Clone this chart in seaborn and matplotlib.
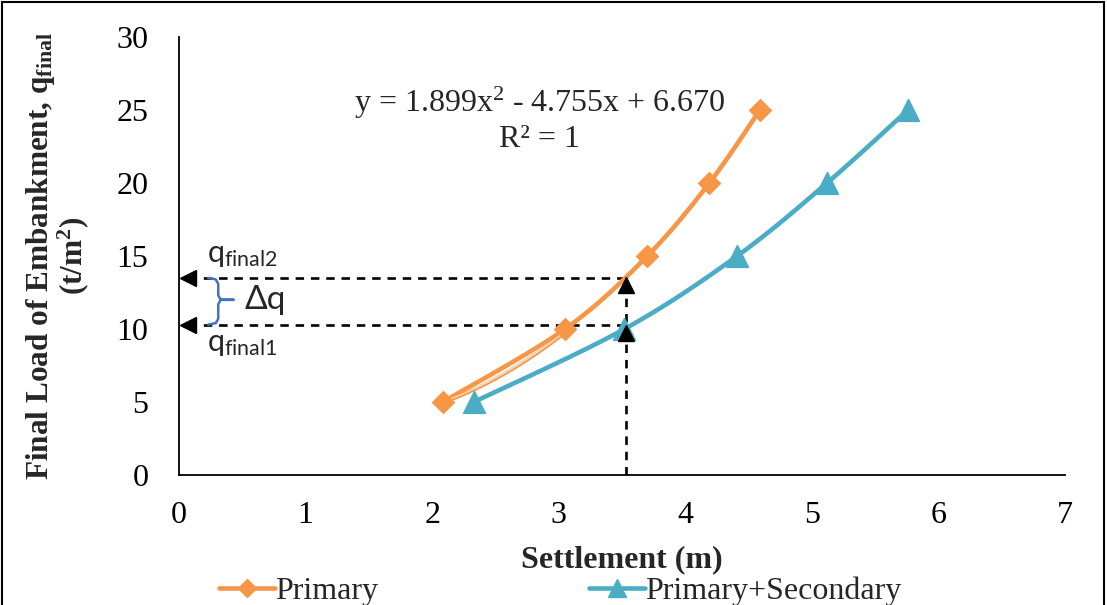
import numpy as np
import pandas as pd
import matplotlib
matplotlib.use("Agg")
import matplotlib.pyplot as plt
from matplotlib.lines import Line2D
from matplotlib.patches import Rectangle
import seaborn as sns

# ---- data ----
load = [5, 10, 15, 20, 25]
primary = [2.085, 3.05, 3.70, 4.19, 4.59]
primary_secondary = [2.33, 3.52, 4.41, 5.12, 5.76]
trend_coef = [1.899, -4.755, 6.670]   # y = a x^2 + b x + c
trend_range = [2.085, 3.05]
q_final1 = 10.3
q_final2 = 13.5
s_mark = 3.53
x_ticks = [0, 1, 2, 3, 4, 5, 6, 7]
y_ticks = [0, 5, 10, 15, 20, 25, 30]

sns.set_theme(style="white")
plt.rcParams['font.family'] = ['Liberation Serif', 'DejaVu Serif']
plt.rcParams['mathtext.fontset'] = 'custom'
plt.rcParams['mathtext.rm'] = 'Liberation Serif'
plt.rcParams['mathtext.bf'] = 'Liberation Serif:bold'
plt.rcParams['mathtext.it'] = 'Liberation Serif:italic'

ORANGE = "#F79646"
BLUE = "#4BACC6"
FS = 23


def smooth(xs, ys, n=30):
    """Excel-like smoothed curve (cubic Bezier, tension 1/6) through points."""
    P = np.column_stack([xs, ys]).astype(float)
    out = []
    for i in range(len(P) - 1):
        p0 = P[i - 1] if i > 0 else P[i]
        p1, p2 = P[i], P[i + 1]
        p3 = P[i + 2] if i + 2 < len(P) else P[i + 1]
        c1 = p1 + (p2 - p0) / 6
        c2 = p2 - (p3 - p1) / 6
        t = np.linspace(0, 1, n)[:, None]
        seg = ((1 - t) ** 3) * p1 + 3 * ((1 - t) ** 2) * t * c1 + 3 * (1 - t) * t ** 2 * c2 + t ** 3 * p2
        out.append(seg if i == 0 else seg[1:])
    s = np.vstack(out)
    return s[:, 0], s[:, 1]


fig = plt.figure(figsize=(11.07, 6.05), dpi=100)
ax = fig.add_axes([0.1617, 0.2149, 0.8003, 0.7239])

# smoothed curves
for xs, col in [(primary, ORANGE), (primary_secondary, BLUE)]:
    sx, sy = smooth(xs, load)
    df = pd.DataFrame({"x": sx, "y": sy})
    sns.lineplot(data=df, x="x", y="y", sort=False, estimator=None, color=col, lw=3.3, ax=ax, zorder=3)

# trendline
tx = np.linspace(trend_range[0], trend_range[1], 50)
ty = np.polyval(trend_coef, tx)
ax.plot(tx, ty, color=ORANGE, lw=1.3, zorder=3)
ax.plot(tx, ty, color="white", lw=0.6, zorder=3.05)
ax.plot(tx + 0.012, ty - 0.08, color=ORANGE, lw=1.2, zorder=3.1)

# markers
sns.scatterplot(x=primary, y=load, marker="D", s=125, color=ORANGE, edgecolor=ORANGE, ax=ax, zorder=4)
sns.scatterplot(x=primary_secondary, y=load, marker="^", s=240, color=BLUE, edgecolor=BLUE, ax=ax, zorder=4)

# dashed guides
dash = (0, (3.2, 2.6))
ax.plot([0.07, s_mark], [q_final2, q_final2], ls=dash, color="black", lw=1.9, zorder=2)
ax.plot([0.07, s_mark], [q_final1, q_final1], ls=dash, color="black", lw=1.9, zorder=2)
ax.plot([s_mark, s_mark], [0, q_final2], ls=dash, color="black", lw=1.9, zorder=2)
ax.plot([0.07, 0.07], [q_final2, q_final1], ls="none", marker="<", ms=12, color="black", clip_on=False, zorder=5)
ax.plot([s_mark, s_mark], [q_final2 - 0.5, q_final1 - 0.55], ls="none", marker="^", ms=12, color="black", zorder=5)

# brace
bx = [0.23, 0.29, 0.31, 0.31, 0.33, 0.43, 0.33, 0.31, 0.31, 0.29, 0.23]
by = [13.5, 13.4, 13.1, 12.3, 12.0, 12.0, 12.0, 11.7, 10.7, 10.4, 10.3]
ax.plot(bx, by, color="#4472C4", lw=1.8, zorder=5)

sans = ['Lato', 'DejaVu Sans']
ax.text(0.22, 15.1, r"q$_{\mathregular{final2}}$", fontsize=22, family=sans, va="center", ha="left")
ax.text(0.22, 9.0, r"q$_{\mathregular{final1}}$", fontsize=22, family=sans, va="center", ha="left")
ax.text(0.52, 12.0, "Δq", fontsize=24, family=sans, va="center", ha="left")

ax.text(2.85, 25.5, r"y = 1.899x$^{2}$ - 4.755x + 6.670", fontsize=FS, ha="center", va="center")
ax.text(2.85, 23.0, "R² = 1", fontsize=FS, ha="center", va="center")

ax.set_xlim(0, 7)
ax.set_ylim(0, 30)
ax.set_xticks(x_ticks)
ax.set_yticks(y_ticks)
ax.tick_params(axis="both", length=0, labelsize=FS, colors="black")
ax.tick_params(axis="x", pad=19)
ax.tick_params(axis="y", pad=22)
for s in ["top", "right"]:
    ax.spines[s].set_visible(False)
for s in ["left", "bottom"]:
    ax.spines[s].set_color("black")
    ax.spines[s].set_linewidth(1.3)
ax.grid(False)

ax.set_xlabel("Settlement (m)", fontsize=FS, fontweight="bold")
ax.xaxis.set_label_coords(0.5, -0.16)
ax.set_ylabel("Final Load of Embankment, q$_{\\mathbf{final}}$\n(t/m$^{\\mathbf{2}}$)",
              fontsize=FS - 0.5, fontweight="bold", linespacing=0.95)
ax.yaxis.set_label_coords(-0.099, 0.5)

handles = [
    Line2D([], [], color=ORANGE, lw=3.3, marker="D", ms=9),
    Line2D([], [], color=BLUE, lw=3.3, marker="^", ms=13),
]
fig.legend(handles, ["Primary", "Primary+Secondary"], loc="lower center", ncol=2,
           bbox_to_anchor=(0.506, -0.05), frameon=False, fontsize=FS, handlelength=1.75,
           handletextpad=0.0, columnspacing=6.6)

fig.patches.append(Rectangle((0.0015, -0.01), 0.9955, 1.0075, transform=fig.transFigure,
                             fill=False, edgecolor="black", lw=1.5))

fig.savefig("out.png", dpi=100)
